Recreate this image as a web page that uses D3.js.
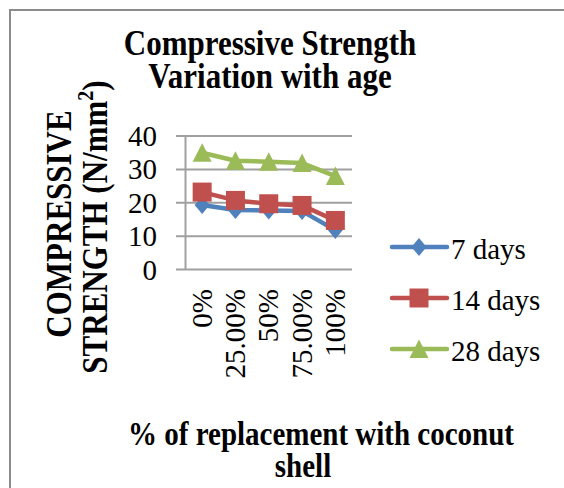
<!DOCTYPE html>
<html>
<head>
<meta charset="utf-8">
<script src="https://cdn.jsdelivr.net/npm/d3@7"></script>
<style>
  body { margin: 0; background: #fff; }
  svg text { font-family: "Liberation Serif", "Times New Roman", serif; fill: #000; }
</style>
</head>
<body>
<div class="chartdiv"></div>
<script>
// values
let categories = ['0%', '25.00%', '50%', '75.00%', '100%']
let seriesNames = ['7 days', '14 days', '28 days']
let days7 = [19.3, 17.8, 17.7, 17.5, 11.8]
let days14 = [23.2, 20.7, 19.7, 19.2, 14.7]
let days28 = [35, 32.6, 32.3, 31.9, 28]
let yTicks = [0, 10, 20, 30, 40]
let colors = ['#4F81BD', '#C0504D', '#9BBB59']
let shapes = ['diamond', 'square', 'triangle']

let w = 564, h = 488
let boldStretch = 1.14 // bold titles look taller than plain Times in the original
let series = [days7, days14, days28].map((vals, i) => ({
    name: seriesNames[i], values: vals, color: colors[i], shape: shapes[i]
}))

let svg = d3.select('.chartdiv').append('svg')
    .attr('width', w)
    .attr('height', h)

// outer frame (cut off at right and bottom in the original)
svg.append('rect')
    .attr('x', 10).attr('y', 10)
    .attr('width', 700).attr('height', 700)
    .attr('fill', 'none')
    .attr('stroke', '#8c8c8c')
    .attr('stroke-width', 2)

// scales
let xScale = d3.scaleBand()
    .domain(categories)
    .range([185.5, 352])
let yScale = d3.scaleLinear()
    .domain([0, 40])
    .range([269.5, 136])

let cx = d => xScale(d) + xScale.bandwidth() / 2

// gridlines
svg.append('g')
    .selectAll('line')
    .data(yTicks)
    .enter()
    .append('line')
    .attr('x1', 176)
    .attr('x2', 352)
    .attr('y1', d => yScale(d))
    .attr('y2', d => yScale(d))
    .attr('stroke', '#a0a0a0')
    .attr('stroke-width', 2)

// y axis line
svg.append('line')
    .attr('x1', 185.5).attr('x2', 185.5)
    .attr('y1', yScale(40)).attr('y2', yScale(0))
    .attr('stroke', '#a0a0a0')
    .attr('stroke-width', 2)

// y tick labels
svg.append('g')
    .selectAll('text')
    .data(yTicks)
    .enter()
    .append('text')
    .attr('x', 157)
    .attr('y', d => yScale(d) + 10)
    .attr('text-anchor', 'end')
    .style('font-size', '29px')
    .text(d => d)

// x tick labels, rotated
svg.append('g')
    .selectAll('text')
    .data(categories)
    .enter()
    .append('text')
    .attr('transform', d => 'translate(' + (cx(d) + 9.5) + ',289) rotate(-90)')
    .attr('text-anchor', 'end')
    .style('font-size', '29px')
    .text(d => d)

// marker shapes
function symbolFor(shape, size) {
    if (shape == 'diamond') {
        return 'M0,' + (-size * 0.5) + 'L' + (size * 0.42) + ',0L0,' + (size * 0.5) + 'L' + (-size * 0.42) + ',0Z'
    }
    if (shape == 'square') {
        let s = size * 0.5
        return 'M' + (-s) + ',' + (-s) + 'H' + s + 'V' + s + 'H' + (-s) + 'Z'
    }
    let s = size * 0.5
    return 'M0,' + (-s) + 'L' + s + ',' + (s * 0.95) + 'L' + (-s) + ',' + (s * 0.95) + 'Z'
}
let markerSize = { diamond: 18, square: 19, triangle: 19 }

let line = d3.line()
    .x((d, i) => cx(categories[i]))
    .y(d => yScale(d))

// series lines and markers
series.forEach(s => {
    let g = svg.append('g')
    g.append('path')
        .datum(s.values)
        .attr('d', line)
        .attr('fill', 'none')
        .attr('stroke', s.color)
        .attr('stroke-width', 4.5)
        .attr('stroke-linejoin', 'round')
        .attr('stroke-linecap', 'round')
    g.selectAll('path.marker')
        .data(s.values)
        .enter()
        .append('path')
        .attr('class', 'marker')
        .attr('transform', (d, i) => 'translate(' + cx(categories[i]) + ',' + yScale(d) + ')')
        .attr('d', symbolFor(s.shape, markerSize[s.shape]))
        .attr('fill', s.color)
})

// legend
let legend = svg.append('g')
series.forEach((s, i) => {
    let ly = 247 + i * 51
    legend.append('line')
        .attr('x1', 392).attr('x2', 447)
        .attr('y1', ly).attr('y2', ly)
        .attr('stroke', s.color)
        .attr('stroke-width', 4.5)
        .attr('stroke-linecap', 'round')
    legend.append('path')
        .attr('transform', 'translate(419,' + ly + ')')
        .attr('d', symbolFor(s.shape, markerSize[s.shape]))
        .attr('fill', s.color)
    legend.append('text')
        .attr('x', 451)
        .attr('y', ly + 12)
        .style('font-size', '29px')
        .text(s.name)
})

// bold label helper: text placed at (x, y), rotated, stretched in glyph height
function boldLabel(x, y, rot, size, str) {
    return svg.append('text')
        .attr('transform', 'translate(' + x + ',' + y + ') rotate(' + rot + ') scale(1,' + boldStretch + ')')
        .attr('text-anchor', 'middle')
        .style('font-size', size + 'px')
        .style('font-weight', 'bold')
        .text(str)
}

// chart title
boldLabel(270, 55, 0, 31, 'Compressive Strength')
boldLabel(270, 88, 0, 31, 'Variation with age')

// y axis title
boldLabel(71, 224, -90, 31, 'COMPRESSIVE')
let yt2 = boldLabel(107, 227, -90, 31, '')
yt2.append('tspan').text('STRENGTH (N/mm')
yt2.append('tspan').attr('dy', -12).style('font-size', '20px').text('2')
yt2.append('tspan').attr('dy', 12).text(')')

// x axis title
boldLabel(321, 445, 0, 29, '% of replacement with coconut')
boldLabel(303, 477, 0, 29, 'shell')
</script>
</body>
</html>
